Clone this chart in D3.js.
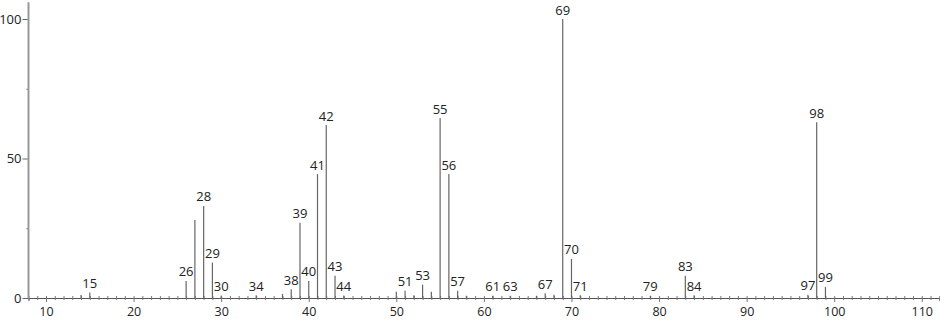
<!DOCTYPE html>
<html><head><meta charset="utf-8">
<script src="https://cdn.jsdelivr.net/npm/d3@7"></script>
<style>body{margin:0;background:#fff} svg{display:block}</style>
</head><body><svg id="c" width="940" height="320"></svg>
<script>
// m/z values and relative intensities (%)
const mz =        [14, 15, 26, 27, 28, 29, 30, 34, 37, 38, 39, 40, 41,  42, 43, 44, 50, 51, 52, 53, 54, 55,  56,  57, 58, 61, 63, 66, 67, 68, 69,  70, 71, 79, 83, 84, 97, 98, 99];
const intensity = [1.1,2.0,6.1,28, 33, 12.7,0.9,1.0,1.5,3.1,27, 6.1,44.4,62, 8,  0.9,2.2,2.6,1.0,4.8,2.2,64.5,44.4,2.6,0.8,0.8,0.8,0.8,1.7,1.2,100, 14, 1.0,0.8,8,  1.0,1.2,63, 4.0];
const labeledMz = [15, 26, 28, 29, 30, 34, 38, 39, 40, 41, 42, 43, 44, 51, 53, 55, 56, 57, 61, 63, 67, 69, 70, 71, 79, 83, 84, 97, 98, 99];
const xTickValues = d3.range(8, 113);
const xTickLabels = [10, 20, 30, 40, 50, 60, 70, 80, 90, 100, 110];
const yTickValues = [0, 25, 50, 75, 100];
const yTickLabels = [0, 50, 100];

const FONT = '"Open Sans", sans-serif';
const svg = d3.select("#c");
const x = d3.scaleLinear().domain([8, 112]).range([28.5, 939.3]);
const y = d3.scaleLinear().domain([0, 100]).range([298, 19]);

// x axis
const gx = svg.append("g").attr("transform", `translate(0,${y(0)})`)
  .call(d3.axisBottom(x).tickValues(xTickValues).tickSizeOuter(0).tickSize(3)
    .tickFormat(d => xTickLabels.includes(d) ? d : ""));
gx.attr("font-family", FONT).attr("font-size", 12.5);
gx.select(".domain").attr("stroke", "#555");
gx.selectAll(".tick line")
  .attr("y1", -2)
  .attr("y2", d => xTickLabels.includes(d) ? 4 : 2)
  .attr("stroke", "#777");
gx.selectAll(".tick text").attr("y", 9.5).attr("dy", "0.71em").attr("fill", "#222");

// y axis
const gy = svg.append("g").attr("transform", `translate(${x(8)},0)`)
  .call(d3.axisLeft(y).tickValues(yTickValues).tickSizeOuter(0).tickSize(5)
    .tickFormat(d => yTickLabels.includes(d) ? d : ""));
gy.attr("font-family", FONT).attr("font-size", 13);
gy.select(".domain").remove();
gy.selectAll(".tick line")
  .attr("x2", d => yTickLabels.includes(d) ? -6 : -2)
  .attr("stroke", "#666");
gy.selectAll(".tick text").attr("x", -7).attr("fill", "#222");
gy.append("line").attr("x1", 0).attr("x2", 0).attr("y1", y(0)).attr("y2", y(106))
  .attr("stroke", "#999").attr("stroke-width", 2);

// peaks
const peaks = mz.map((m, i) => ({ m, v: intensity[i] }));
svg.append("g").selectAll("line").data(peaks).join("line")
  .attr("x1", d => x(d.m)).attr("x2", d => x(d.m))
  .attr("y1", y(0)).attr("y2", d => y(d.v))
  .attr("stroke", "#666").attr("stroke-width", 1.2);

// peak labels
svg.append("g").attr("font-family", FONT).attr("font-size", 13).attr("fill", "#222")
  .attr("text-anchor", "middle")
  .selectAll("text").data(peaks.filter(d => labeledMz.includes(d.m))).join("text")
  .attr("x", d => x(d.m)).attr("y", d => y(d.v) - 4.5)
  .text(d => d.m);
</script></body></html>
